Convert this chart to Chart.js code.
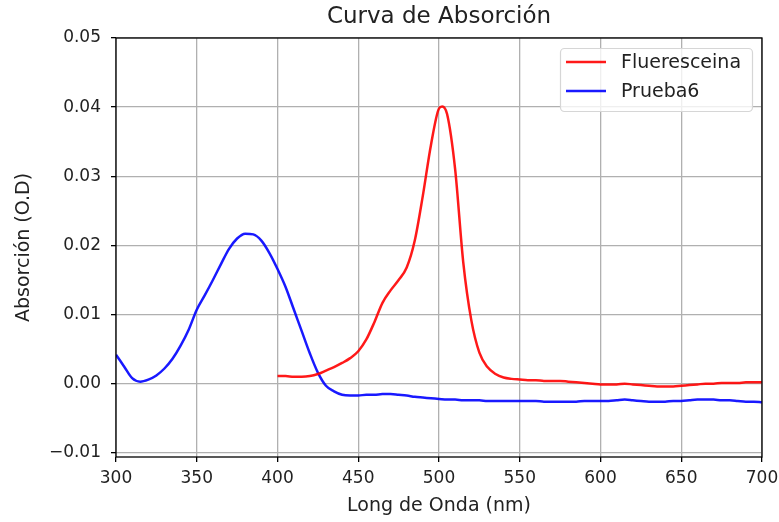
<!DOCTYPE html>
<html>
<head>
<meta charset="utf-8">
<script src="https://cdn.jsdelivr.net/npm/chart.js@4/dist/chart.umd.min.js"></script>
<style>
  body { margin: 0; background: #fff; }
  #caja { width: 779px; height: 522px; position: relative; }
</style>
</head>
<body>
<div id="caja"><canvas id="curva"></canvas></div>
<script>
// Datos (longitud de onda en nm, absorción en O.D)
var ondaPrueba = [300, 305, 310, 315, 320, 325, 330, 335, 340, 345, 350, 355, 360, 365, 370, 375, 380, 385, 390, 395,
                  400, 405, 410, 415, 420, 425, 430, 435, 440, 445, 450, 455, 460, 465, 470, 475, 480, 485, 490, 495,
                  500, 505, 510, 515, 520, 525, 530, 535, 540, 545, 550, 555, 560, 565, 570, 575, 580, 585, 590, 595,
                  600, 605, 610, 615, 620, 625, 630, 635, 640, 645, 650, 655, 660, 665, 670, 675, 680, 685, 690, 695, 700];
var absPrueba = [0.0042, 0.0025, 0.0008, 0.0003, 0.0006, 0.0012, 0.0022, 0.0036, 0.0055, 0.0078, 0.0107, 0.0128, 0.0150, 0.0173, 0.0195, 0.0210, 0.0217, 0.0216, 0.0207, 0.0189,
                 0.0166, 0.0140, 0.0108, 0.0076, 0.0044, 0.0016, -0.0003, -0.0011, -0.0016, -0.0017, -0.0017, -0.0016, -0.0016, -0.0015, -0.0015, -0.0016, -0.0017, -0.0019, -0.0020, -0.0021,
                 -0.0022, -0.0023, -0.0023, -0.0024, -0.0024, -0.0024, -0.0025, -0.0025, -0.0025, -0.0025, -0.0025, -0.0025, -0.0025, -0.0026, -0.0026, -0.0026, -0.0026, -0.0026, -0.0025, -0.0025,
                 -0.0025, -0.0025, -0.0024, -0.0023, -0.0024, -0.0025, -0.0026, -0.0026, -0.0026, -0.0025, -0.0025, -0.0024, -0.0023, -0.0023, -0.0023, -0.0024, -0.0024, -0.0025, -0.0026, -0.0026, -0.0027];

var ondaFlue = [400, 405, 410, 415, 420, 425, 430, 435, 440, 445, 450, 455, 460, 465, 470, 475, 480, 485, 490, 495,
                500, 502, 505, 510, 515, 520, 525, 530, 535, 540, 545, 550, 555, 560, 565, 570, 575, 580, 585, 590, 595,
                600, 605, 610, 615, 620, 625, 630, 635, 640, 645, 650, 655, 660, 665, 670, 675, 680, 685, 690, 695, 700];
var absFlue = [0.0011, 0.0011, 0.0010, 0.0010, 0.0011, 0.0014, 0.0019, 0.0024, 0.0030, 0.0037, 0.0047, 0.0064, 0.0089, 0.0117, 0.0135, 0.0150, 0.0168, 0.0207, 0.0272, 0.0345,
               0.0398, 0.0401, 0.0390, 0.0310, 0.0176, 0.0092, 0.0045, 0.0024, 0.0014, 0.0009, 0.0007, 0.0006, 0.0005, 0.0005, 0.0004, 0.0004, 0.0004, 0.0003, 0.0002, 0.0001, 0.0000,
               -0.0001, -0.0001, -0.0001, 0.0000, -0.0001, -0.0002, -0.0003, -0.0004, -0.0004, -0.0004, -0.0003, -0.0002, -0.0001, 0.0000, 0.0000, 0.0001, 0.0001, 0.0001, 0.0002, 0.0002, 0.0002];

var ticksX = [300, 350, 400, 450, 500, 550, 600, 650, 700];
var ticksY = [-0.01, 0.00, 0.01, 0.02, 0.03, 0.04, 0.05];

function aPuntos(xs, ys) {
    return xs.map(function(x, i) { return { x: x, y: ys[i] }; });
}

var fuente = 'DejaVu Sans';

// Marco, título y leyenda al estilo matplotlib
var adornos = {
    id: 'adornos',
    afterDraw: function(chart) {
        var ctx = chart.ctx;
        var a = chart.chartArea;
        ctx.save();
        ctx.strokeStyle = '#000';
        ctx.lineWidth = 1.3;
        ctx.strokeRect(Math.round(a.left), Math.round(a.top), Math.round(a.right - a.left), Math.round(a.bottom - a.top));

        ctx.fillStyle = '#222';
        ctx.font = '23px ' + fuente;
        ctx.textAlign = 'center';
        ctx.textBaseline = 'middle';
        ctx.fillText('Curva de Absorción', (a.left + a.right) / 2, 17);

        // leyenda
        var x0 = 560, y0 = 48, w = 192, h = 63;
        ctx.beginPath();
        ctx.roundRect(x0 + 0.5, y0 + 0.5, w, h, 4);
        ctx.fillStyle = 'rgba(255,255,255,0.8)';
        ctx.fill();
        ctx.strokeStyle = '#d6d6d6';
        ctx.lineWidth = 1.2;
        ctx.stroke();
        ctx.font = '19px ' + fuente;
        ctx.textAlign = 'left';
        chart.data.datasets.forEach(function(ds, i) {
            var yy = 62 + i * 29;
            ctx.strokeStyle = ds.borderColor;
            ctx.lineWidth = 2.5;
            ctx.beginPath();
            ctx.moveTo(566, yy);
            ctx.lineTo(606, yy);
            ctx.stroke();
            ctx.fillStyle = '#222';
            ctx.fillText(ds.label, 621, yy + 1);
        });
        ctx.restore();
    }
};

var ctx_curva = document.getElementById('curva').getContext('2d');
var graficaCurva = new Chart(ctx_curva, {
    type: 'line',
    data: {
        datasets: [{
            label: 'Flueresceina',
            data: aPuntos(ondaFlue, absFlue),
            borderColor: 'rgba(255, 0, 0, 0.9)',
            borderWidth: 2.5,
            pointRadius: 0,
            cubicInterpolationMode: 'monotone'
        }, {
            label: 'Prueba6',
            data: aPuntos(ondaPrueba, absPrueba),
            borderColor: 'rgba(0, 0, 255, 0.9)',
            borderWidth: 2.5,
            pointRadius: 0,
            cubicInterpolationMode: 'monotone'
        }]
    },
    options: {
        responsive: true,
        maintainAspectRatio: false,
        animation: false,
        layout: { padding: { top: 38, right: 17, left: 0, bottom: 0 } },
        plugins: {
            legend: { display: false },
            title: { display: false },
            tooltip: { enabled: false }
        },
        scales: {
            x: {
                type: 'linear',
                min: 300,
                max: 700,
                afterFit: function(s) { s.height = 65; s.paddingLeft = 0; s.paddingRight = 0; },
                afterBuildTicks: function(s) { s.ticks = ticksX.map(function(v) { return { value: v }; }); },
                border: { display: false },
                grid: { color: '#b0b0b0', lineWidth: 1.3, tickColor: '#000', tickLength: 5 },
                ticks: { color: '#222', font: { family: fuente, size: 17 }, padding: 6 },
                title: {
                    display: true,
                    text: 'Long de Onda (nm)',
                    color: '#222',
                    font: { family: fuente, size: 19 },
                    padding: { top: 0, bottom: 5 }
                }
            },
            y: {
                min: -0.0106,
                max: 0.05,
                afterFit: function(s) { s.width = 116; s.paddingTop = 0; s.paddingBottom = 0; },
                afterBuildTicks: function(s) { s.ticks = ticksY.map(function(v) { return { value: v }; }); },
                border: { display: false },
                grid: { color: '#b0b0b0', lineWidth: 1.3, tickColor: '#000', tickLength: 5 },
                ticks: {
                    color: '#222',
                    font: { family: fuente, size: 17 },
                    padding: 10,
                    callback: function(value) {
                        if (Math.abs(value) < 1e-9) value = 0;
                        return value.toFixed(2).replace('-', '\u2212');
                    }
                },
                title: {
                    display: true,
                    text: 'Absorción (O.D)',
                    color: '#222',
                    font: { family: fuente, size: 19 },
                    padding: { top: 13, bottom: 0 }
                }
            }
        }
    },
    plugins: [adornos]
});
</script>
</body>
</html>
